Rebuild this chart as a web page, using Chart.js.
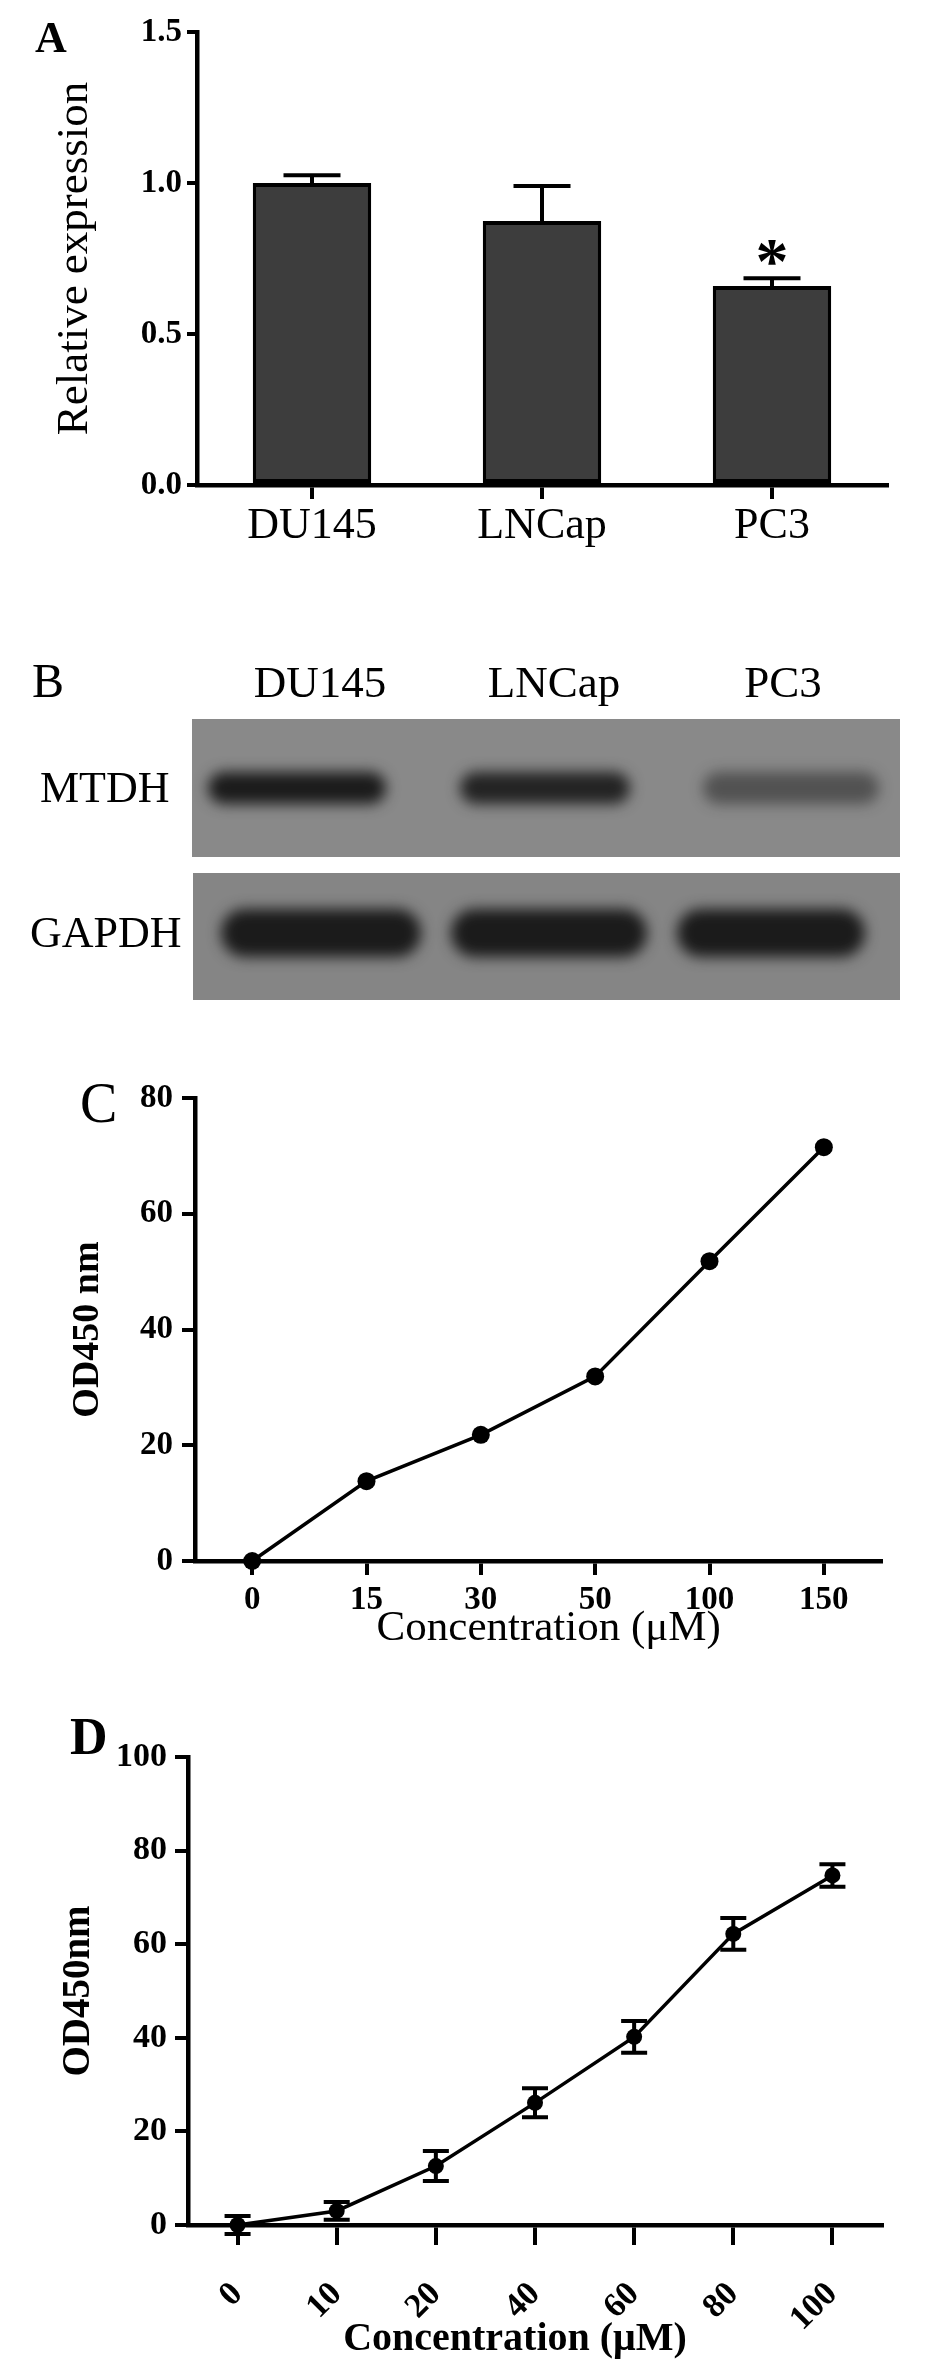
<!DOCTYPE html>
<html>
<head>
<meta charset="utf-8">
<script src="https://cdn.jsdelivr.net/npm/chart.js@4.4.1/dist/chart.umd.min.js"></script>
<style>
  body { margin: 0; background: #fff; width: 930px; height: 2376px; position: relative; overflow: hidden; }
  canvas { position: absolute; left: 0; }
</style>
</head>
<body>
<canvas id="chartA" width="930" height="575" style="top:0px"></canvas>
<canvas id="blotB" width="930" height="400" style="top:640px"></canvas>
<canvas id="chartC" width="930" height="640" style="top:1040px"></canvas>
<canvas id="chartD" width="930" height="676" style="top:1700px"></canvas>
<script>
// panel A - relative MTDH expression
const cellLines = ['DU145', 'LNCap', 'PC3'];
const relExpression = [1.0, 0.874, 0.659];
const relExpressionErr = [0.026, 0.116, 0.026];

// panel B - band strength per lane (western blot)
const mtdhBand = [1.0, 0.93, 0.5];
const gapdhBand = [1.0, 1.0, 1.0];

// panel C
const concC = ['0', '15', '30', '50', '100', '150'];
const odC = [0, 13.8, 21.8, 31.9, 51.8, 71.5];

// panel D
const concD = ['0', '10', '20', '40', '60', '80', '100'];
const odD = [0, 3.0, 12.6, 26.1, 40.2, 62.2, 74.7];
const odDErr = [1.9, 1.9, 3.2, 3.1, 3.4, 3.4, 2.4];

const SERIF = '"Liberation Serif", "Times New Roman", serif';
Chart.defaults.color = '#000';
Chart.defaults.font.family = SERIF;

// error bars from the scales
const errorBars = {
  id: 'errorBars',
  afterDatasetsDraw(chart, args, opts) {
    if (!opts.errors) return;
    const ctx = chart.ctx;
    const y = chart.scales.y;
    const values = chart.data.datasets[0].data;
    ctx.save();
    ctx.strokeStyle = '#000';
    ctx.lineWidth = opts.lineWidth;
    chart.getDatasetMeta(0).data.forEach((el, i) => {
      const v = values[i], e = opts.errors[i];
      const top = y.getPixelForValue(v + e);
      const bot = opts.upperOnly ? y.getPixelForValue(v) : y.getPixelForValue(v - e);
      const h = opts.cap / 2;
      ctx.beginPath();
      ctx.moveTo(el.x, bot); ctx.lineTo(el.x, top);
      ctx.moveTo(el.x - h, top); ctx.lineTo(el.x + h, top);
      if (!opts.upperOnly) { ctx.moveTo(el.x - h, bot); ctx.lineTo(el.x + h, bot); }
      ctx.stroke();
    });
    ctx.restore();
  }
};

// panel letter (and the star in A)
const panelText = {
  id: 'panelText',
  afterDraw(chart, args, opts) {
    const ctx = chart.ctx;
    ctx.save();
    ctx.fillStyle = '#000';
    ctx.textBaseline = 'alphabetic';
    ctx.font = opts.font;
    ctx.fillText(opts.letter, opts.x, opts.y);
    if (opts.star != null) {
      const el = chart.getDatasetMeta(0).data[opts.star];
      const v = relExpression[opts.star] + relExpressionErr[opts.star];
      ctx.font = 'bold 66px ' + SERIF;
      ctx.textAlign = 'center';
      ctx.fillText('*', el.x, chart.scales.y.getPixelForValue(v) + 5);
    }
    ctx.restore();
  }
};

function axisGrid(tickLength) {
  return { drawOnChartArea: false, drawTicks: true, tickLength: tickLength, tickWidth: 4, lineWidth: 4, color: '#000' };
}
const axisBorder = { display: true, color: '#000', width: 4.5 };

// A
new Chart(document.getElementById('chartA'), {
  type: 'bar',
  data: {
    labels: cellLines,
    datasets: [{
      data: relExpression,
      backgroundColor: '#3d3d3d',
      borderColor: '#000',
      borderWidth: 4,
      borderSkipped: false,
      barPercentage: 0.515,
      categoryPercentage: 1
    }]
  },
  options: {
    responsive: false,
    animation: false,
    layout: { padding: { left: 0, top: 32, right: 43, bottom: 0 } },
    plugins: {
      legend: { display: false },
      tooltip: { enabled: false },
      errorBars: { errors: relExpressionErr, cap: 57, lineWidth: 4, upperOnly: true },
      panelText: { letter: 'A', font: 'bold 44px ' + SERIF, x: 35, y: 52, star: 2 }
    },
    scales: {
      x: {
        offset: true,
        grid: Object.assign(axisGrid(14), { offset: false }),
        border: axisBorder,
        ticks: { padding: 1, font: { size: 44 } },
        afterFit: s => { s.height = 90; }
      },
      y: {
        min: 0, max: 1.5,
        ticks: { stepSize: 0.5, padding: 5, font: { size: 33, weight: 'bold' }, callback: v => v.toFixed(1) },
        grid: axisGrid(10),
        border: axisBorder,
        title: { display: true, text: 'Relative expression', font: { size: 45, lineHeight: 1 }, padding: { top: 52.5, bottom: 0 } },
        afterFit: s => { s.width = 197; }
      }
    }
  },
  plugins: [errorBars, panelText]
});

// B - western blot picture
(function drawBlot() {
  const ctx = document.getElementById('blotB').getContext('2d');
  const oy = 640;
  const headerX = [320, 554, 783];
  const mtdhX = [297, 545, 791], mtdhW = [178, 170, 176];
  const gapdhX = [321, 549, 771], gapdhW = [200, 196, 188];

  ctx.fillStyle = '#000';
  ctx.textBaseline = 'alphabetic';
  ctx.font = '48px ' + SERIF;
  ctx.fillText('B', 32, 697 - oy);
  ctx.font = '45px ' + SERIF;
  ctx.textAlign = 'center';
  cellLines.forEach((name, i) => ctx.fillText(name, headerX[i], 697 - oy));
  ctx.textAlign = 'left';
  ctx.font = '44px ' + SERIF;
  ctx.fillText('MTDH', 40, 802 - oy);
  ctx.fillText('GAPDH', 30, 947 - oy);

  ctx.fillStyle = '#898989';
  ctx.fillRect(192, 719 - oy, 708, 138);
  ctx.fillStyle = '#858585';
  ctx.fillRect(193, 873 - oy, 707, 127);

  function band(cx, cy, w, h, k) {
    ctx.save();
    ctx.filter = 'blur(7px)';
    ctx.globalAlpha = 0.95 * k;
    ctx.fillStyle = '#151515';
    ctx.beginPath();
    ctx.roundRect(cx - w / 2, cy - h / 2, w, h, h / 2);
    ctx.fill();
    ctx.restore();
  }
  mtdhBand.forEach((k, i) => band(mtdhX[i], 788 - oy, mtdhW[i], 32, k));
  gapdhBand.forEach((k, i) => band(gapdhX[i], 933 - oy, gapdhW[i], 48, k));
})();

// C
new Chart(document.getElementById('chartC'), {
  type: 'line',
  data: {
    labels: concC,
    datasets: [{
      data: odC,
      borderColor: '#000',
      borderWidth: 3.5,
      pointRadius: 9,
      pointBackgroundColor: '#000',
      pointBorderWidth: 0,
      tension: 0,
      clip: false
    }]
  },
  options: {
    responsive: false,
    animation: false,
    layout: { padding: { left: 0, top: 58, right: 49, bottom: 0 } },
    plugins: {
      legend: { display: false },
      tooltip: { enabled: false },
      panelText: { letter: 'C', font: '56px ' + SERIF, x: 80, y: 82 }
    },
    scales: {
      x: {
        offset: true,
        grid: Object.assign(axisGrid(14), { offset: false }),
        border: axisBorder,
        ticks: { padding: 6, font: { size: 33, weight: 'bold' } },
        title: { display: true, text: '  Concentration (μM)', font: { size: 43, lineHeight: 1 }, padding: { top: 0, bottom: 30 } },
        afterFit: s => { s.height = 119; }
      },
      y: {
        min: 0, max: 80,
        ticks: { stepSize: 20, padding: 9, font: { size: 33, weight: 'bold' } },
        grid: axisGrid(13),
        border: axisBorder,
        title: { display: true, text: 'OD450 nm', font: { size: 38, weight: 'bold', lineHeight: 1 }, padding: { top: 69.5, bottom: 0 } },
        afterFit: s => { s.width = 195; }
      }
    }
  },
  plugins: [panelText]
});

// D
new Chart(document.getElementById('chartD'), {
  type: 'line',
  data: {
    labels: concD,
    datasets: [{
      data: odD,
      borderColor: '#000',
      borderWidth: 3.5,
      pointRadius: 8,
      pointBackgroundColor: '#000',
      pointBorderWidth: 0,
      tension: 0,
      clip: false
    }]
  },
  options: {
    responsive: false,
    animation: false,
    layout: { padding: { left: 0, top: 57, right: 48, bottom: 0 } },
    plugins: {
      legend: { display: false },
      tooltip: { enabled: false },
      errorBars: { errors: odDErr, cap: 26, lineWidth: 4, upperOnly: false },
      panelText: { letter: 'D', font: 'bold 52px ' + SERIF, x: 70, y: 54 }
    },
    scales: {
      x: {
        offset: true,
        grid: Object.assign(axisGrid(20), { offset: false }),
        border: axisBorder,
        ticks: { padding: 38, minRotation: 45, maxRotation: 45, font: { size: 34, weight: 'bold', lineHeight: 0.5 } },
        title: { display: true, text: 'Concentration (μM)    ', font: { size: 40, weight: 'bold', lineHeight: 1 }, padding: { top: 0, bottom: 16 } },
        afterFit: s => { s.height = 151; }
      },
      y: {
        min: 0, max: 100,
        ticks: { stepSize: 20, padding: 8, font: { size: 34, weight: 'bold' } },
        grid: axisGrid(13),
        border: axisBorder,
        title: { display: true, text: 'OD450nm', font: { size: 39, weight: 'bold', lineHeight: 1 }, padding: { top: 59.5, bottom: 0 } },
        afterFit: s => { s.width = 188; }
      }
    }
  },
  plugins: [errorBars, panelText]
});
</script>
</body>
</html>
